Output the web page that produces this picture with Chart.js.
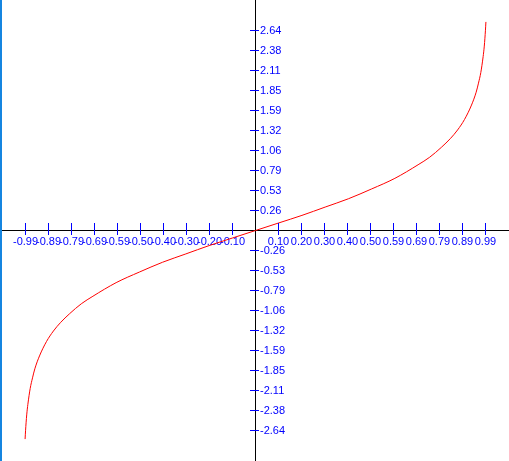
<!DOCTYPE html>
<html>
<head>
<meta charset="utf-8">
<script src="https://cdn.jsdelivr.net/npm/chart.js@4.4.1/dist/chart.umd.min.js"></script>
<style>
    html, body { margin: 0; padding: 0; background: #fff; overflow: hidden; }
    #wrap { position: relative; width: 509px; height: 461px; }
    #edge { position: absolute; left: 0; top: 0; width: 2px; height: 461px; background: #1585e0; }
</style>
</head>
<body>
<div id="wrap">
    <canvas id="myChart" width="509" height="461"></canvas>
    <div id="edge"></div>
</div>
<script>
// curve
var xValues = [-0.992, -0.99, -0.985, -0.98, -0.97, -0.96, -0.95, -0.93, -0.9, -0.87, -0.84, -0.8, -0.75, -0.7, -0.6, -0.5, -0.4, -0.3, -0.2, -0.1,
    0, 0.1, 0.2, 0.3, 0.4, 0.5, 0.6, 0.7, 0.75, 0.8, 0.84, 0.87, 0.9, 0.93, 0.95, 0.96, 0.97, 0.98, 0.985, 0.99, 0.992];
var yValues = [-2.76, -2.65, -2.44, -2.30, -2.09, -1.95, -1.83, -1.66, -1.47, -1.33, -1.22, -1.10, -0.97, -0.87, -0.69, -0.55, -0.42, -0.31, -0.20, -0.10,
    0, 0.10, 0.20, 0.31, 0.42, 0.55, 0.69, 0.87, 0.97, 1.10, 1.22, 1.33, 1.47, 1.66, 1.83, 1.95, 2.09, 2.30, 2.44, 2.65, 2.76];

// axis ticks
var xTicks = [-0.99, -0.891, -0.792, -0.693, -0.594, -0.495, -0.396, -0.297, -0.198, -0.099,
    0.099, 0.198, 0.297, 0.396, 0.495, 0.594, 0.693, 0.792, 0.891, 0.99];
var xTickLabels = ['-0.99', '-0.89', '-0.79', '-0.69', '-0.59', '-0.50', '-0.40', '-0.30', '-0.20', '-0.10',
    '0.10', '0.20', '0.30', '0.40', '0.50', '0.59', '0.69', '0.79', '0.89', '0.99'];
var yTicks = [-2.6467, -2.382, -2.1174, -1.8527, -1.588, -1.3234, -1.0587, -0.794, -0.5293, -0.2647,
    0.2647, 0.5293, 0.794, 1.0587, 1.3234, 1.588, 1.8527, 2.1174, 2.382, 2.6467];
var yTickLabels = ['-2.64', '-2.38', '-2.11', '-1.85', '-1.59', '-1.32', '-1.06', '-0.79', '-0.53', '-0.26',
    '0.26', '0.53', '0.79', '1.06', '1.32', '1.59', '1.85', '2.11', '2.38', '2.64'];

var tickColor = '#0000ff';
var fontFamily = '"Liberation Sans", Arial, sans-serif';

// ticks that cross the axes + y labels on the right side of the y axis
var crossTicks = {
    id: 'crossTicks',
    afterDraw: function (chart) {
        var ctx = chart.ctx;
        var xs = chart.scales.x, ys = chart.scales.y;
        var axisRow = Math.floor(ys.getPixelForValue(0));
        var axisCol = Math.floor(xs.getPixelForValue(0));
        ctx.save();
        ctx.strokeStyle = tickColor;
        ctx.lineWidth = 1;
        ctx.beginPath();
        xTicks.forEach(function (v) {
            var px = Math.floor(xs.getPixelForValue(v)) + 0.5;
            ctx.moveTo(px, axisRow - 7);
            ctx.lineTo(px, axisRow + 5);
        });
        yTicks.forEach(function (v) {
            var py = Math.floor(ys.getPixelForValue(v)) + 0.5;
            ctx.moveTo(axisCol - 5, py);
            ctx.lineTo(axisCol + 4, py);
        });
        ctx.stroke();

        ctx.fillStyle = tickColor;
        ctx.font = '11px ' + fontFamily;
        ctx.textAlign = 'left';
        ctx.textBaseline = 'middle';
        yTicks.forEach(function (v, i) {
            var py = Math.floor(ys.getPixelForValue(v)) + 1;
            ctx.fillText(yTickLabels[i], axisCol + 5, py);
        });
        ctx.restore();
    }
};

var points = xValues.map(function (x, i) {
    return {x: x, y: yValues[i]};
});

new Chart(document.getElementById('myChart').getContext('2d'), {
    type: 'line',
    data: {
        datasets: [{
            data: points,
            borderColor: '#ff0000',
            borderWidth: 1,
            pointRadius: 0,
            fill: false,
            cubicInterpolationMode: 'monotone'
        }]
    },
    options: {
        responsive: false,
        animation: false,
        devicePixelRatio: 1,
        layout: {padding: 0},
        plugins: {legend: {display: false}, tooltip: {enabled: false}},
        scales: {
            x: {
                type: 'linear',
                min: -1.1,
                max: 1.09139,
                position: {y: 0},
                afterBuildTicks: function (scale) {
                    scale.ticks = xTicks.map(function (v) { return {value: v}; });
                },
                ticks: {
                    autoSkip: false,
                    maxRotation: 0,
                    minRotation: 0,
                    padding: 5,
                    color: tickColor,
                    font: {family: fontFamily, size: 11},
                    callback: function (value, index) { return xTickLabels[index]; }
                },
                grid: {drawOnChartArea: false, drawTicks: false},
                border: {display: true, color: '#000000', width: 1}
            },
            y: {
                type: 'linear',
                min: -3.05,
                max: 3.05,
                position: {x: 0},
                afterBuildTicks: function (scale) {
                    scale.ticks = yTicks.map(function (v) { return {value: v}; });
                },
                ticks: {display: false},
                grid: {drawOnChartArea: false, drawTicks: false},
                border: {display: true, color: '#000000', width: 1}
            }
        }
    },
    plugins: [crossTicks]
});
</script>
</body>
</html>
